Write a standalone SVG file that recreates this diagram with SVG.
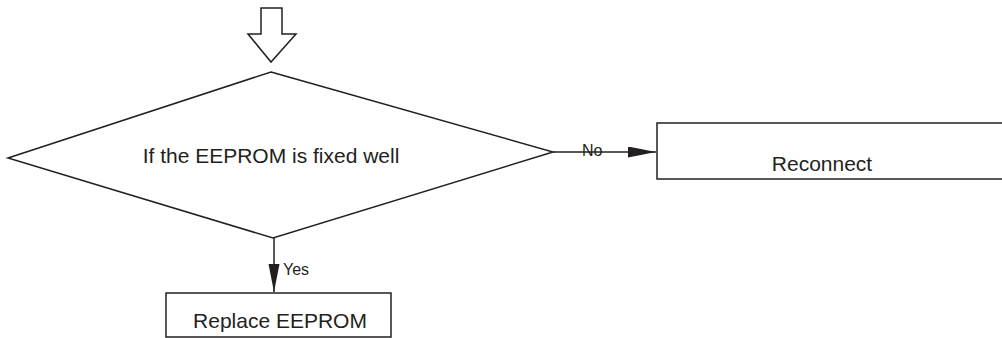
<svg xmlns="http://www.w3.org/2000/svg" width="1002" height="338" viewBox="0 0 1002 338">
<style>
.s{fill:none;stroke:#231f20;stroke-width:1.5}
.b{fill:#fff;stroke:#231f20;stroke-width:1.5}
.t{font-family:"Liberation Sans",Arial,sans-serif;font-size:21px;fill:#231f20}
.l{font-family:"Liberation Sans",Arial,sans-serif;font-size:16px;fill:#231f20}
</style>
<defs>
<marker id="ah" markerUnits="userSpaceOnUse" markerWidth="30" markerHeight="12" refX="28" refY="5.5" orient="auto">
<path d="M0,0 L28,5.5 L0,11 Z" fill="#231f20"/>
</marker>
</defs>
<g id="start">
<polygon class="b" points="261,8 282,8 282,34 296,34 271,62 248,34 261,34"/>
</g>
<g id="decision">
<polygon class="b" points="271,72 553,152 273,238 8,158"/>
<text class="t" x="271" y="163" text-anchor="middle">If the EEPROM is fixed well</text>
</g>
<g id="reconnect">
<rect class="b" x="657" y="123" width="350" height="56"/>
<text class="t" x="822" y="171" text-anchor="middle">Reconnect</text>
</g>
<g id="replace">
<rect class="b" x="166" y="293" width="225" height="44"/>
<text class="t" x="280" y="328" text-anchor="middle">Replace EEPROM</text>
</g>
<g id="connectors">
<line class="s" x1="553" y1="152" x2="656" y2="152" marker-end="url(#ah)"/>
<text class="l" x="582" y="156">No</text>
<line class="s" x1="274" y1="238" x2="274" y2="292" marker-end="url(#ah)"/>
<text class="l" x="283" y="275">Yes</text>
</g>
</svg>
